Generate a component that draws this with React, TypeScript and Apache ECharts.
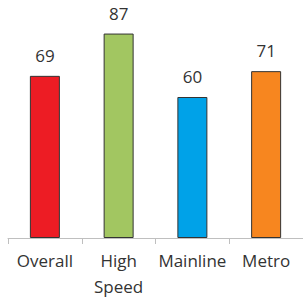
import React, { useEffect, useRef } from "react";
import * as echarts from "echarts";

const categories = ["Overall", "High\nSpeed", "Mainline", "Metro"];
const values = [69, 87, 60, 71];
const colors = ["#ED1C24", "#A2C661", "#00A2E8", "#F7861F"];

export default function App() {
  const ref = useRef<HTMLDivElement>(null);
  useEffect(() => {
    document.body.style.margin = "0";
    const chart = echarts.init(ref.current!, null, { renderer: "svg" });
    chart.setOption({
      animation: false,
      grid: { left: 8, top: 3, width: 302, height: 235.5 },
      xAxis: {
        type: "category",
        data: categories,
        axisLine: { lineStyle: { color: "#BFBFBF", width: 1 } },
        axisTick: { show: true, length: 6, lineStyle: { color: "#BFBFBF" } },
        axisLabel: {
          interval: 0,
          margin: 9,
          fontFamily: "Open Sans",
          fontSize: 17,
          lineHeight: 26,
          color: "#333333",
        },
      },
      yAxis: {
        type: "value",
        min: 0,
        max: 100,
        show: false,
      },
      series: [
        {
          type: "bar",
          barWidth: 30,
          data: values.map((v, i) => ({
            value: v,
            itemStyle: { color: colors[i], borderColor: "#333333", borderWidth: 1 },
          })),
          label: {
            show: true,
            position: "top",
            distance: 12,
            fontFamily: "Open Sans",
            fontSize: 17,
            color: "#333333",
          },
        },
      ],
    });
    return () => chart.dispose();
  }, []);
  return <div ref={ref} style={{ width: 303, height: 299 }} />;
}
